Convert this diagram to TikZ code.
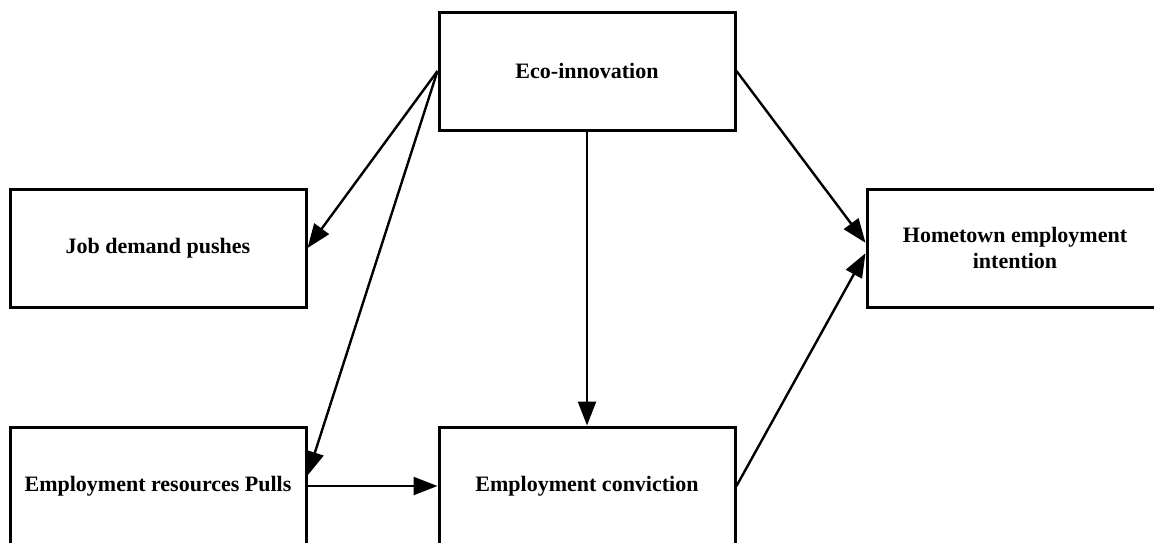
\documentclass[tikz,border=0pt]{standalone}
\usepackage{fontspec}
\setmainfont{Liberation Serif}
\usetikzlibrary{arrows.meta}

\tikzset{
  factor/.style={draw, line width=1.5pt, minimum width=148pt, minimum height=59pt,
    inner sep=0pt, align=center, font=\fontsize{11}{13}\selectfont\bfseries},
  link/.style={-{Triangle[length=12pt,width=9pt]}, line width=1.2pt}
}

\begin{document}
\begin{tikzpicture}[x=0.5pt, y=-0.5pt]
\useasboundingbox (0,0) rectangle (1154,542);
\clip (0,0) rectangle (1154,542);
% factors
\node[factor] (eco) at (587,71) {Eco-innovation};
\node[factor] (job) at (158,248) {Job demand pushes};
\node[factor] (home) at (1015,248) {Hometown employment\\intention};
\node[factor] (pull) at (158,486) {Employment resources Pulls};
\node[factor] (conv) at (587,486) {Employment conviction};
% paths
\draw[link] (eco.west) -- (job.east);
\draw[link] (eco.west) -- (pull.4);
\draw[link] (eco.south) -- (conv.north);
\draw[link] (eco.east) -- (home.178);
\draw[link] (pull.east) -- (conv.west);
\draw[link] (conv.east) -- (home.182);
\end{tikzpicture}
\end{document}
